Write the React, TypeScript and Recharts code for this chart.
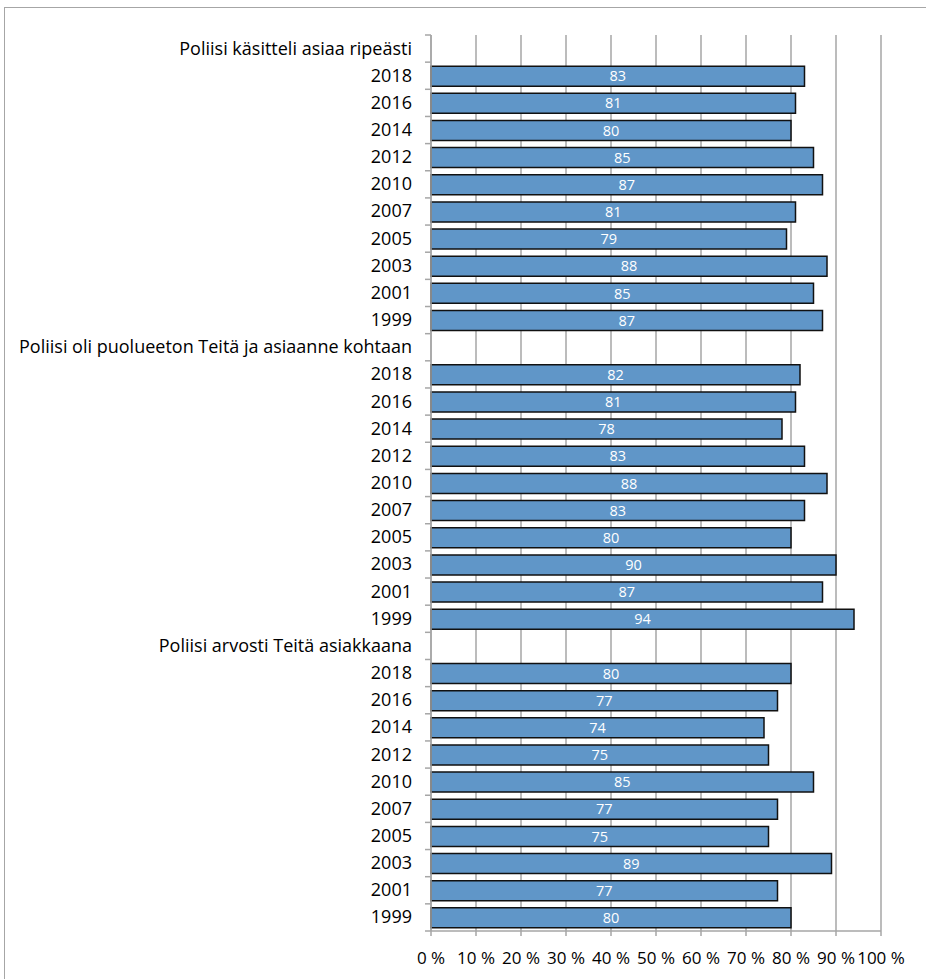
import { BarChart, Bar, XAxis, YAxis, CartesianGrid, LabelList } from 'recharts';

const groups = [
  'Poliisi käsitteli asiaa ripeästi',
  'Poliisi oli puolueeton Teitä ja asiaanne kohtaan',
  'Poliisi arvosti Teitä asiakkaana',
];
const years = ['2018', '2016', '2014', '2012', '2010', '2007', '2005', '2003', '2001', '1999'];
const ripeasti = [83, 81, 80, 85, 87, 81, 79, 88, 85, 87];
const puolueeton = [82, 81, 78, 83, 88, 83, 80, 90, 87, 94];
const arvosti = [80, 77, 74, 75, 85, 77, 75, 89, 77, 80];
const xTicks = [0, 10, 20, 30, 40, 50, 60, 70, 80, 90, 100];

const rows: { id: string; label: string; v: number | null }[] = [];
[ripeasti, puolueeton, arvosti].forEach((vals, g) => {
  rows.push({ id: `h${g}`, label: groups[g], v: null });
  years.forEach((y, i) => rows.push({ id: `r${g}-${i}`, label: y, v: vals[i] }));
});

const FONT = '"Open Sans", Lato, sans-serif';
const AXIS = '#a6a6a6';

function YTick(props: any) {
  const { x, y, payload, index } = props;
  const half = payload?.offset ?? 13.6;
  const ax = x + 19;
  const row = rows[index];
  return (
    <g>
      <text x={x} y={y} dy={6} textAnchor="end" fill="#000" fontSize={18} fontFamily={FONT}>
        {row ? row.label : ''}
      </text>
      <line x1={ax - 6} x2={ax} y1={y - half} y2={y - half} stroke={AXIS} strokeWidth={1.5} />
      {index === rows.length - 1 && (
        <line x1={ax - 6} x2={ax} y1={y + half} y2={y + half} stroke={AXIS} strokeWidth={1.5} />
      )}
    </g>
  );
}

export default function App() {
  return (
    <div style={{ position: 'absolute', left: 0, top: 0, width: 926, height: 979, overflow: 'hidden', background: '#fff' }}>
      <div style={{ position: 'absolute', left: 4, top: 7, width: 960, height: 1000, border: '1.5px solid #a6a6a6' }} />
      <div style={{ position: 'absolute', left: 0, top: 0 }}>
        <BarChart
          width={926}
          height={979}
          data={rows}
          layout="vertical"
          margin={{ top: 35, right: 45, bottom: 0, left: 0 }}
        >
          <CartesianGrid horizontal={false} stroke={AXIS} strokeWidth={1.5} />
          <XAxis
            type="number"
            domain={[0, 100]}
            ticks={xTicks}
            interval={0}
            tickFormatter={(v: number) => `${v} %`}
            height={48}
            tickSize={5}
            tickMargin={16}
            stroke={AXIS}
            strokeWidth={1.5}
            tick={{ fill: '#000', fontSize: 17, fontFamily: FONT }}
          />
          <YAxis
            type="category"
            dataKey="id"
            width={431}
            interval={0}
            tickSize={6}
            tickMargin={13}
            tickLine={false}
            stroke={AXIS}
            strokeWidth={1.5}
            tick={<YTick />}
          />
          <Bar dataKey="v" fill="#6096c8" stroke="#111" strokeWidth={1.5} barSize={20} isAnimationActive={false}>
            <LabelList
              dataKey="v"
              position="center"
              fill="#fff"
              fontSize={14.5}
              fontFamily={FONT}
              formatter={(v: any) => (v == null ? '' : v)}
            />
          </Bar>
        </BarChart>
      </div>
    </div>
  );
}
